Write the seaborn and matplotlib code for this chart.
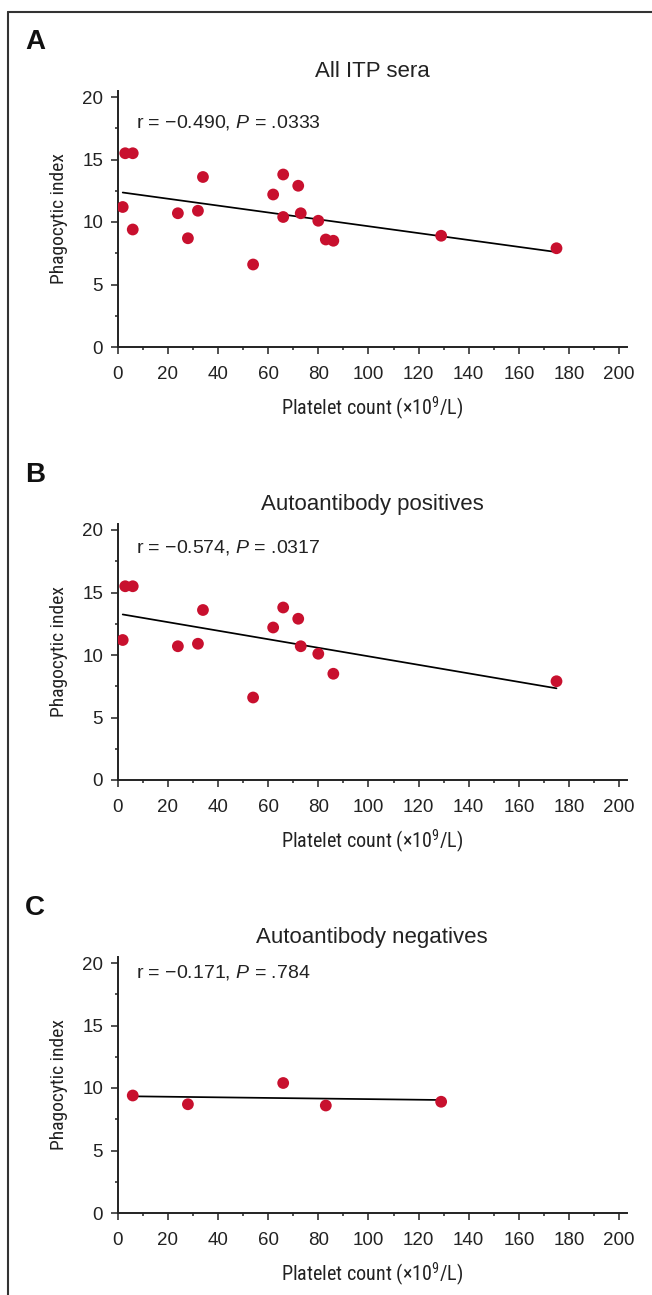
"""
Phagocytic index vs platelet count in ITP sera
----------------------------------------------
Three stacked scatter plots with least-squares lines: all ITP sera,
autoantibody positives and autoantibody negatives.
"""

import matplotlib
matplotlib.use("Agg")
import pandas as pd
import matplotlib.pyplot as plt
from matplotlib.lines import Line2D
from matplotlib.ticker import MultipleLocator
import seaborn as sns

# autoantibody positive sera
pos_platelets = [2, 3, 6, 24, 32, 34, 54, 62, 66, 72, 73, 80, 86, 175]
pos_phago = [11.2, 15.5, 15.5, 10.7, 10.9, 13.6, 6.6, 12.2, 13.8, 12.9, 10.7, 10.1, 8.5, 7.9]

# autoantibody negative sera
neg_platelets = [6, 28, 66, 83, 129]
neg_phago = [9.4, 8.7, 10.4, 8.6, 8.9]

panel_letters = ["A", "B", "C"]
panel_titles = ["All ITP sera", "Autoantibody positives", "Autoantibody negatives"]
r_values = ["\u22120.490", "\u22120.574", "\u22120.171"]
p_values = [".0333", ".0317", ".784"]
x_ticks = list(range(0, 201, 20))
y_ticks = [0, 5, 10, 15, 20]

DOT_RED = "#C8102E"
INK = "#222222"
# condensed face for the axis titles, whichever is installed first
NARROW = ["Roboto Condensed", "Liberation Sans Narrow", "Roboto", "DejaVu Sans"]

sns.set_style("ticks")
plt.rcParams["font.family"] = ["Liberation Sans", "DejaVu Sans"]
plt.rcParams["mathtext.fontset"] = "custom"
plt.rcParams["mathtext.rm"] = "Roboto Condensed"   # only used for the 10^9 superscript
plt.rcParams["mathtext.it"] = "Liberation Sans:italic"

W, H = 652, 1295
TEXT_Y = [18.0, 18.6, 19.2]   # height of the r / P note in each panel


def draw_panel(fig, i, x, y):
    """One scatter panel with its regression line."""
    zero_px = 347 + 433 * i
    ax = fig.add_axes([117.7 / W, 1 - zero_px / H, 509 / W, 256.25 / H])
    df = pd.DataFrame({"platelets": x, "phago": y})

    sns.regplot(data=df, x="platelets", y="phago", ci=None, scatter=False,
                truncate=True, line_kws=dict(color="black", lw=1.25), ax=ax)
    sns.scatterplot(data=df, x="platelets", y="phago", color=DOT_RED, s=72,
                    edgecolor="none", zorder=3, ax=ax)

    ax.set_xlim(0, 203)
    ax.set_ylim(0, 20.5)
    ax.set_xticks(x_ticks)
    ax.set_yticks(y_ticks)
    ax.xaxis.set_minor_locator(MultipleLocator(10))
    ax.yaxis.set_minor_locator(MultipleLocator(2.5))
    sns.despine(ax=ax)
    for side in ("left", "bottom"):
        ax.spines[side].set_linewidth(1.4)
        ax.spines[side].set_color(INK)
    ax.tick_params(which="major", direction="out", length=5, width=1.1,
                   labelsize=13.5, color=INK, labelcolor=INK)
    ax.tick_params(which="minor", direction="out", length=2.5, width=1.1,
                   color=INK)
    ax.tick_params(axis="x", which="major", pad=8.5)
    ax.tick_params(axis="y", which="major", pad=5.5)

    ax.set_xlabel("Platelet count (\u00d710$^{9}$/L)", family=NARROW,
                  fontsize=14.5, color=INK)
    ax.set_ylabel("Phagocytic index", family=NARROW, fontsize=14, color=INK)
    ax.xaxis.set_label_coords(0.5, -0.187)
    ax.yaxis.set_label_coords(-0.098, 0.5)
    ax.set_title(panel_titles[i], fontsize=16, pad=10, color=INK)

    ax.text(7.2, TEXT_Y[i], rf"r = {r_values[i]}, $\mathit{{P}}$ = {p_values[i]}",
            fontsize=14, va="center", color=INK)

    fig.text(25 / W, 1 - (49 + 433 * i) / H, panel_letters[i],
             fontsize=20, fontweight="bold", va="baseline", color="#111111")
    return ax


if __name__ == "__main__":
    fig = plt.figure(figsize=(W / 100, H / 100), dpi=100)

    all_platelets = pos_platelets + neg_platelets
    all_phago = pos_phago + neg_phago
    draw_panel(fig, 0, all_platelets, all_phago)
    draw_panel(fig, 1, pos_platelets, pos_phago)
    draw_panel(fig, 2, neg_platelets, neg_phago)

    # open frame round the figure (top and left edges only)
    fig.add_artist(Line2D([8 / W, 1], [1 - 12 / H, 1 - 12 / H],
                          transform=fig.transFigure, color="#333333", lw=1.5))
    fig.add_artist(Line2D([8 / W, 8 / W], [0, 1 - 12 / H],
                          transform=fig.transFigure, color="#333333", lw=1.5))

    fig.savefig("out.png", dpi=100)
